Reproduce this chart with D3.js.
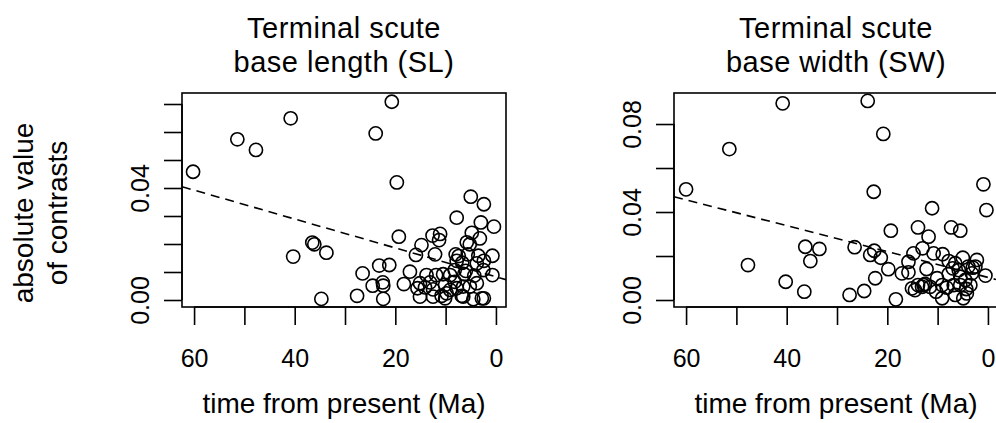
<!DOCTYPE html>
<html>
<head>
<meta charset="utf-8">
<script src="https://cdn.jsdelivr.net/npm/d3@7"></script>
<style>
  html, body { margin: 0; padding: 0; background: #fff; }
  svg { display: block; }
  text { font-family: "Liberation Sans", Arial, Helvetica, sans-serif; fill: #000; }
</style>
</head>
<body>
<svg id="chart" width="996" height="423"></svg>
<script>
// ---- data (time from present in Ma, absolute value of contrasts) ----
const titlesSL = ["Terminal scute", "base length (SL)"];
const titlesSW = ["Terminal scute", "base width (SW)"];
const xLabel = "time from present (Ma)";
const yLabelLines = ["absolute value", "of contrasts"];

const xTicks = [60, 50, 40, 30, 20, 10, 0];
const xTickLabels = [60, 40, 20, 0];
const yTicksSL = [0, 0.01, 0.02, 0.03, 0.04, 0.05, 0.06, 0.07];
const yTickLabelsSL = ["0.00", "0.04"];
const yTicksSW = [0, 0.02, 0.04, 0.06, 0.08];
const yTickLabelsSW = ["0.00", "0.04", "0.08"];

const timeSL = [60.2, 51.4, 47.7, 40.8, 36.5, 36.1, 40.3, 33.7, 34.7, 20.7, 23.9, 19.7, 19.3, 5.0, 2.4, 7.8, 3.0, 0.4, 4.8, 12.6,
  11.1, 11.3, 14.8, 15.9, 12.1, 3.2, 5.8, 5.2, 8.0, 7.4, 5.6, 3.5, 0.7, 2.4, 3.8, 6.7, 7.8, 6.0, 6.3, 0.7,
  4.3, 23.2, 21.2, 26.5, 24.5, 22.5, 22.4, 27.6, 22.4, 17.1, 18.3, 15.6, 13.8, 13.1, 14.1, 11.9, 10.5, 9.1, 15.1, 12.5,
  10.8, 9.8, 9.1, 6.8, 5.2, 4.5, 2.8, 2.4, 3.8, 10.1, 7.8, 6.5, 8.2, 2.5, 12.5, 6.5, 8.2, 15.1, 10.1];
const contrastSL = [0.0458, 0.0574, 0.0536, 0.0649, 0.0205, 0.0199, 0.0155, 0.0169, 0.0004, 0.0708, 0.0595, 0.0420, 0.0226, 0.0369, 0.0342, 0.0294, 0.0277, 0.0262, 0.0240, 0.0230,
  0.0236, 0.0214, 0.0196, 0.0161, 0.0163, 0.0220, 0.0206, 0.0199, 0.0163, 0.0157, 0.0163, 0.0158, 0.0158, 0.0140, 0.0131, 0.0133, 0.0140, 0.0104, 0.0092, 0.0089,
  0.0087, 0.0123, 0.0125, 0.0095, 0.0051, 0.0063, 0.0051, 0.0015, 0.0004, 0.0101, 0.0057, 0.0042, 0.0089, 0.0063, 0.0045, 0.0089, 0.0092, 0.0089, 0.0012, 0.0012,
  0.0015, 0.0024, 0.0036, 0.0015, 0.0048, 0.0003, 0.0006, 0.0006, 0.0060, 0.0006, 0.0042, 0.0048, 0.0107, 0.0107, 0.0038, 0.0012, 0.0065, 0.0060, 0.0054];

const timeSW = [60.0, 51.4, 40.8, 47.7, 40.2, 36.3, 35.3, 36.5, 23.9, 20.8, 22.7, 0.9, 0.3, 11.1, 19.3, 13.9, 11.8, 7.3, 5.5, 33.5,
  26.5, 22.6, 23.4, 21.3, 22.4, 24.6, 27.5, 18.3, 19.8, 17.1, 15.8, 14.8, 13.0, 15.8, 12.2, 10.8, 9.0, 7.8, 6.5, 5.0,
  3.9, 2.5, 2.2, 0.5, 7.8, 5.8, 3.2, 10.1, 15.1, 13.9, 13.1, 12.5, 11.5, 10.3, 9.1, 8.2, 6.5, 5.5, 4.9, 4.2,
  3.5, 4.5, 5.5, 4.3, 6.8, 9.1, 7.0, 3.0, 12.8, 14.5];
const contrastSW = [0.0503, 0.0686, 0.0894, 0.0159, 0.0083, 0.0242, 0.0177, 0.0038, 0.0905, 0.0755, 0.0492, 0.0526, 0.0409, 0.0417, 0.0315, 0.0330, 0.0288, 0.0330, 0.0315, 0.0232,
  0.0240, 0.0224, 0.0205, 0.0192, 0.0099, 0.0041, 0.0023, 0.0003, 0.0140, 0.0121, 0.0174, 0.0212, 0.0235, 0.0126, 0.0141, 0.0212, 0.0208, 0.0177, 0.0167, 0.0192,
  0.0152, 0.0152, 0.0182, 0.0111, 0.0118, 0.0136, 0.0121, 0.0099, 0.0053, 0.0068, 0.0060, 0.0073, 0.0060, 0.0038, 0.0008, 0.0056, 0.0023, 0.0068, 0.0008, 0.0030,
  0.0068, 0.0091, 0.0106, 0.0050, 0.0068, 0.0068, 0.0144, 0.0147, 0.0068, 0.0045];

// fitted regression lines: [intercept, slope per Ma]
const fitSL = [0.00828, 0.000516];
const fitSW = [0.01027, 0.000588];

// ---- drawing ----
const svg = d3.select("#chart");
const FONT = "\"Liberation Sans\", Arial, Helvetica, sans-serif";

function panel(opts) {
  const { left, right, top, bottom, xDomain, yDomain, time, contrast, fit, yTicks, yTickLabels, titles } = opts;
  const x = d3.scaleLinear().domain(xDomain).range([left, right]);
  const y = d3.scaleLinear().domain(yDomain).range([bottom, top]);
  const g = svg.append("g");

  const clipId = "clip" + left;
  svg.append("clipPath").attr("id", clipId)
    .append("rect").attr("x", left).attr("y", top).attr("width", right - left).attr("height", bottom - top);

  // regression line (dashed)
  const xd = x.domain();
  g.append("line")
    .attr("clip-path", `url(#${clipId})`)
    .attr("x1", x(xd[0])).attr("y1", y(fit[0] + fit[1] * xd[0]))
    .attr("x2", x(xd[1])).attr("y2", y(fit[0] + fit[1] * xd[1]))
    .attr("stroke", "#000").attr("stroke-width", 1.6).attr("stroke-dasharray", "9,6");

  // points
  g.append("g").attr("clip-path", `url(#${clipId})`)
    .selectAll("circle").data(time.map((t, i) => [t, contrast[i]]))
    .join("circle")
    .attr("cx", d => x(d[0])).attr("cy", d => y(d[1]))
    .attr("r", 6.6).attr("fill", "none").attr("stroke", "#000").attr("stroke-width", 1.6);

  // box
  g.append("rect").attr("x", left).attr("y", top).attr("width", right - left).attr("height", bottom - top)
    .attr("fill", "none").attr("stroke", "#000").attr("stroke-width", 1.6);

  // x axis
  const xa = g.append("g").attr("transform", `translate(0,${bottom})`)
    .call(d3.axisBottom(x).tickValues(xTicks).tickSize(18).tickSizeOuter(0)
      .tickFormat(d => xTickLabels.includes(d) ? String(d) : ""));
  xa.select(".domain").attr("d", `M${x(xTicks[0])},0H${x(xTicks[xTicks.length - 1])}`).attr("stroke-width", 1.6);
  xa.selectAll(".tick line").attr("stroke-width", 1.6);
  xa.selectAll(".tick text").attr("y", 60).attr("dy", 0)
    .style("font-family", FONT).style("font-size", "25px");

  // y axis
  const ya = g.append("g").attr("transform", `translate(${left},0)`)
    .call(d3.axisLeft(y).tickValues(yTicks).tickSize(18).tickSizeOuter(0)
      .tickFormat(d => { const s = d3.format(".2f")(d); return yTickLabels.includes(s) ? s : ""; }));
  ya.select(".domain").attr("d", `M0,${y(yTicks[0])}V${y(yTicks[yTicks.length - 1])}`).attr("stroke-width", 1.6);
  ya.selectAll(".tick line").attr("stroke-width", 1.6);
  ya.selectAll(".tick text")
    .attr("x", null).attr("dy", null)
    .attr("transform", "translate(-33,0) rotate(-90)")
    .attr("text-anchor", "middle")
    .style("font-family", FONT).style("font-size", "25px");

  // titles
  const cx = (left + right) / 2;
  g.selectAll("text.title").data(titles).join("text")
    .attr("class", "title")
    .attr("x", cx).attr("y", (d, i) => 38 + i * 34)
    .attr("text-anchor", "middle")
    .style("font-size", "29px").style("letter-spacing", "0.5px")
    .text(d => d);

  // x label
  g.append("text").attr("x", cx).attr("y", 413).attr("text-anchor", "middle")
    .style("font-size", "28px").text(xLabel);
}

panel({
  left: 182, right: 506, top: 93, bottom: 307,
  xDomain: [62.4, -2.0], yDomain: [-0.0025, 0.07393],
  time: timeSL, contrast: contrastSL, fit: fitSL,
  yTicks: yTicksSL, yTickLabels: yTickLabelsSL, titles: titlesSL
});
panel({
  left: 674, right: 998, top: 93, bottom: 307,
  xDomain: [62.4, -2.0], yDomain: [-0.00318, 0.0941],
  time: timeSW, contrast: contrastSW, fit: fitSW,
  yTicks: yTicksSW, yTickLabels: yTickLabelsSW, titles: titlesSW
});

// y label (outer margin, centered vertically on the figure)
svg.append("g").attr("transform", "translate(0,213)")
  .selectAll("text").data(yLabelLines).join("text")
  .attr("transform", (d, i) => `translate(${33 + i * 34},0) rotate(-90)`)
  .attr("text-anchor", "middle")
  .style("font-size", "28px")
  .text(d => d);
</script>
</body>
</html>
